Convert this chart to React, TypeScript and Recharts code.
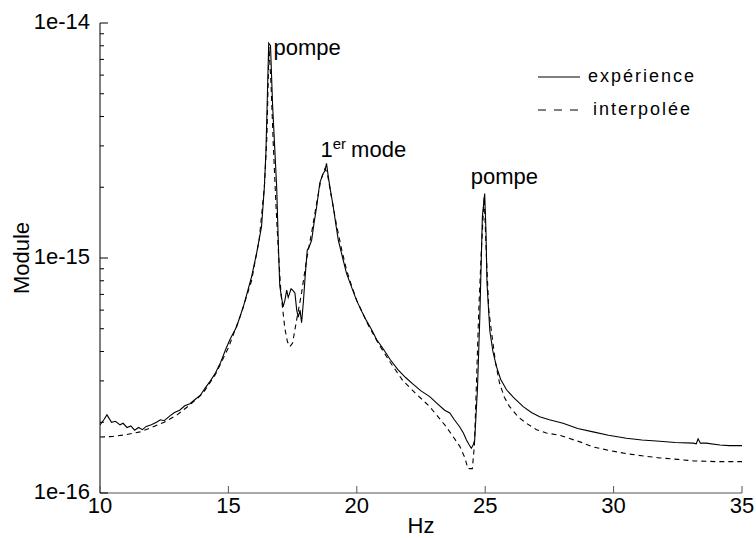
import React from "react";
import { LineChart, Line, XAxis, YAxis, ReferenceDot, Legend } from "recharts";

// mesure (trait plein)
const expFreq = [
  10.0, 10.15, 10.27, 10.45, 10.6, 10.78, 10.9, 11.05, 11.2, 11.35, 11.5, 11.65, 11.8, 12.0,
  12.2, 12.35, 12.5, 12.7, 12.9, 13.1, 13.3, 13.5, 13.7, 13.9, 14.1, 14.3, 14.5, 14.7, 14.9,
  15.06, 15.32, 15.6, 15.9, 16.1, 16.29, 16.4, 16.46, 16.52, 16.57, 16.64, 16.72, 16.8, 16.88,
  16.95, 17.0, 17.13, 17.2, 17.27, 17.33, 17.37, 17.44, 17.5, 17.59, 17.66, 17.72, 17.79,
  17.85, 17.92, 17.98, 18.07, 18.15, 18.24, 18.34, 18.44, 18.56, 18.69, 18.76, 18.82, 18.89,
  18.97, 19.08, 19.18, 19.28, 19.45, 19.6, 19.8, 19.99, 20.2, 20.38, 20.6, 20.77, 21.0, 21.3,
  21.6, 21.9, 22.2, 22.5, 22.84, 23.1, 23.42, 23.62, 23.8, 24.01, 24.15, 24.27, 24.38, 24.46,
  24.53, 24.59, 24.7, 24.79, 24.89, 24.98, 25.03, 25.07, 25.18, 25.3, 25.44, 25.6, 25.83,
  26.1, 26.48, 26.8, 27.12, 27.5, 28.03, 28.6, 29.2, 29.8, 30.5, 31.1, 31.8, 32.4, 33.1,
  33.22, 33.29, 33.38, 33.6, 34.14, 34.5, 35.0,
];
const expModule = [
  1.95e-16, 2.05e-16, 2.15e-16, 2.0e-16, 2.02e-16, 1.95e-16, 1.98e-16, 1.9e-16, 1.93e-16,
  1.85e-16, 1.9e-16, 1.86e-16, 1.92e-16, 1.95e-16, 2.0e-16, 2.05e-16, 2.03e-16, 2.12e-16,
  2.2e-16, 2.25e-16, 2.35e-16, 2.4e-16, 2.5e-16, 2.6e-16, 2.8e-16, 3.0e-16, 3.25e-16, 3.6e-16,
  4.1e-16, 4.5e-16, 5.1e-16, 6.3e-16, 8.3e-16, 1.05e-15, 1.36e-15, 2.0e-15, 2.8e-15, 5.0e-15,
  8.2e-15, 8.0e-15, 4.5e-15, 3.0e-15, 2.0e-15, 1.1e-15, 7.6e-16, 6.2e-16, 6.6e-16, 7.3e-16,
  6.8e-16, 7.0e-16, 7.4e-16, 7.3e-16, 7.1e-16, 6.0e-16, 5.6e-16, 6.0e-16, 5.3e-16, 6.5e-16,
  8.1e-16, 1.08e-15, 1.12e-15, 1.19e-15, 1.42e-15, 1.66e-15, 2.09e-15, 2.29e-15, 2.35e-15,
  2.53e-15, 2.22e-15, 1.95e-15, 1.66e-15, 1.4e-15, 1.19e-15, 1.0e-15, 8.6e-16, 7.5e-16,
  6.6e-16, 5.9e-16, 5.4e-16, 4.9e-16, 4.5e-16, 4.15e-16, 3.7e-16, 3.35e-16, 3.1e-16, 2.9e-16,
  2.72e-16, 2.57e-16, 2.42e-16, 2.25e-16, 2.19e-16, 2.05e-16, 1.91e-16, 1.8e-16, 1.68e-16,
  1.6e-16, 1.55e-16, 1.6e-16, 1.68e-16, 2.8e-16, 5.6e-16, 1.5e-15, 1.88e-15, 1.3e-15, 7.8e-16,
  4.9e-16, 4.0e-16, 3.45e-16, 3.05e-16, 2.75e-16, 2.55e-16, 2.33e-16, 2.2e-16, 2.11e-16,
  2.05e-16, 1.98e-16, 1.88e-16, 1.82e-16, 1.76e-16, 1.71e-16, 1.68e-16, 1.66e-16, 1.64e-16,
  1.63e-16, 1.62e-16, 1.7e-16, 1.63e-16, 1.63e-16, 1.6e-16, 1.59e-16, 1.59e-16,
];

// modèle interpolé (pointillés)
const interpFreq = [
  10.0, 10.5, 11.0, 11.56, 12.0, 12.5, 13.0, 13.5, 14.0, 14.5, 15.0, 15.5, 15.9, 16.2, 16.4,
  16.5, 16.58, 16.66, 16.75, 16.85, 16.95, 17.05, 17.2, 17.3, 17.4, 17.5, 17.65, 17.85, 18.04,
  18.25, 18.44, 18.6, 18.76, 18.85, 19.0, 19.2, 19.4, 19.6, 19.8, 20.0, 20.4, 20.8, 21.3,
  21.8, 22.3, 22.84, 23.49, 24.01, 24.2, 24.33, 24.5, 24.58, 24.66, 24.75, 24.85, 24.96,
  25.05, 25.14, 25.24, 25.4, 25.56, 25.75, 25.95, 26.3, 26.6, 27.0, 27.38, 27.9, 28.69, 29.2,
  29.8, 30.5, 31.1, 31.8, 32.5, 33.1, 34.0, 35.0,
];
const interpModule = [
  1.73e-16, 1.74e-16, 1.77e-16, 1.82e-16, 1.9e-16, 2.0e-16, 2.15e-16, 2.37e-16, 2.65e-16,
  3.2e-16, 4.15e-16, 5.8e-16, 8.0e-16, 1.2e-15, 2.0e-15, 3.3e-15, 7.9e-15, 5.5e-15, 3.0e-15,
  1.7e-15, 1.05e-15, 7.0e-16, 5.0e-16, 4.4e-16, 4.2e-16, 4.35e-16, 5.4e-16, 7.1e-16, 9.8e-16,
  1.3e-15, 1.72e-15, 2.15e-15, 2.4e-15, 2.3e-15, 1.85e-15, 1.4e-15, 1.1e-15, 8.9e-16, 7.6e-16,
  6.6e-16, 5.3e-16, 4.4e-16, 3.6e-16, 3.0e-16, 2.65e-16, 2.33e-16, 1.91e-16, 1.58e-16,
  1.42e-16, 1.27e-16, 1.27e-16, 1.6e-16, 2.95e-16, 6.0e-16, 1.08e-15, 1.82e-15, 1.0e-15,
  6.0e-16, 4.9e-16, 3.6e-16, 2.93e-16, 2.55e-16, 2.33e-16, 2.1e-16, 1.98e-16, 1.86e-16,
  1.8e-16, 1.76e-16, 1.65e-16, 1.57e-16, 1.52e-16, 1.47e-16, 1.44e-16, 1.41e-16, 1.39e-16,
  1.37e-16, 1.36e-16, 1.36e-16,
];

const xTicks = [10, 15, 20, 25, 30, 35];
const yTicks = [
  1e-16, 2e-16, 3e-16, 4e-16, 5e-16, 6e-16, 7e-16, 8e-16, 9e-16,
  1e-15, 2e-15, 3e-15, 4e-15, 5e-15, 6e-15, 7e-15, 8e-15, 9e-15, 1e-14,
];

const peakLabels = ["pompe", "1er mode", "pompe"];
const peakFreq = [16.6, 18.82, 24.98];
const peakModule = [8.2e-15, 2.53e-15, 1.88e-15];

const seriesNames = ["expérience", "interpolée"];

const FONT = "'Liberation Sans', Arial, Helvetica, sans-serif";
const AXIS_GRAY = "#555";
// décalage des annotations par rapport au sommet du pic (px)
const labelOffsets = [
  [4, 12],
  [-6, -6],
  [-14, -10],
];

const expData = expFreq.map((f, i) => ({ f, m: expModule[i] }));
const interpData = interpFreq.map((f, i) => ({ f, m: interpModule[i] }));

const isDecade = (v: number) => {
  const l = Math.log10(v);
  return Math.abs(l - Math.round(l)) < 1e-6;
};

function BottomTick({ x, y, payload }: any) {
  return (
    <g>
      <line x1={x} x2={x} y1={y} y2={y - 7} stroke={AXIS_GRAY} />
      <text x={x} y={y + 20} textAnchor="middle" fontSize={22} fontFamily={FONT} fill="#000">
        {payload.value}
      </text>
    </g>
  );
}

function TopTick({ x, y }: any) {
  return <line x1={x} x2={x} y1={y} y2={y + 6} stroke={AXIS_GRAY} />;
}

function LeftTick({ x, y, payload }: any) {
  const major = isDecade(payload.value);
  return (
    <g>
      <line x1={x} x2={x + (major ? 8 : 4)} y1={y} y2={y} stroke="#000" />
      {major && (
        <text x={x - 10} y={y + 6} textAnchor="end" fontSize={22} fontFamily={FONT} fill="#000">
          {`1e${Math.round(Math.log10(payload.value))}`}
        </text>
      )}
    </g>
  );
}

function RightTick({ x, y, payload }: any) {
  const major = isDecade(payload.value);
  return <line x1={x} x2={x - (major ? 8 : 4)} y1={y} y2={y} stroke={AXIS_GRAY} />;
}

function ModuleTitle({ viewBox }: any) {
  const cx = 29;
  const cy = viewBox.y + viewBox.height / 2;
  return (
    <text
      x={cx}
      y={cy}
      transform={`rotate(-90 ${cx} ${cy})`}
      textAnchor="middle"
      fontSize={22}
      fontFamily={FONT}
      fill="#000"
    >
      Module
    </text>
  );
}

function HzTitle({ viewBox }: any) {
  return (
    <text
      x={viewBox.x + viewBox.width / 2}
      y={533}
      textAnchor="middle"
      fontSize={22}
      fontFamily={FONT}
      fill="#000"
    >
      Hz
    </text>
  );
}

function PeakLabel({ viewBox, text, idx }: any) {
  const [dx, dy] = labelOffsets[idx];
  const x = viewBox.x + dx;
  const y = viewBox.y + dy;
  const sup = text.match(/^(\d+)(er)\s(.*)$/);
  return (
    <text x={x} y={y} fontSize={22} fontFamily={FONT} fill="#000">
      {sup ? (
        <>
          <tspan>{sup[1]}</tspan>
          <tspan dy={-8} fontSize={15}>
            {sup[2]}
          </tspan>
          <tspan dy={8} dx={5}>
            {sup[3]}
          </tspan>
        </>
      ) : (
        text
      )}
    </text>
  );
}

function LegendBox() {
  return (
    <svg width={200} height={70}>
      <line x1={8} x2={50} y1={17} y2={17} stroke="#000" strokeWidth={1.1} />
      <line x1={8} x2={52} y1={50} y2={50} stroke="#000" strokeWidth={1.1} strokeDasharray="8 8" />
      <text x={58} y={22} fontSize={18} letterSpacing={2} fontFamily={FONT} fill="#000">
        {seriesNames[0]}
      </text>
      <text x={63} y={55} fontSize={18} letterSpacing={2} fontFamily={FONT} fill="#000">
        {seriesNames[1]}
      </text>
    </svg>
  );
}

export default function App() {
  return (
    <div style={{ position: "absolute", left: 0, top: 0, width: 756, height: 538, background: "#fff" }}>
      <LineChart width={756} height={538} margin={{ top: 23, right: 14, bottom: 0, left: 0 }}>
        <XAxis
          xAxisId="b"
          type="number"
          dataKey="f"
          domain={[10, 35]}
          ticks={xTicks}
          interval={0}
          height={45}
          allowDataOverflow
          tickSize={0}
          tickMargin={0}
          tickLine={false}
          axisLine={{ stroke: AXIS_GRAY }}
          tick={<BottomTick />}
          label={<HzTitle />}
        />
        <XAxis
          xAxisId="t"
          orientation="top"
          type="number"
          dataKey="f"
          domain={[10, 35]}
          ticks={xTicks}
          interval={0}
          height={0}
          allowDataOverflow
          tickSize={0}
          tickMargin={0}
          tickLine={false}
          axisLine={{ stroke: AXIS_GRAY }}
          tick={<TopTick />}
        />
        <YAxis
          yAxisId="l"
          scale="log"
          domain={[1e-16, 1e-14]}
          ticks={yTicks}
          interval={0}
          width={100}
          allowDataOverflow
          tickSize={0}
          tickMargin={0}
          tickLine={false}
          axisLine={{ stroke: "#000" }}
          tick={<LeftTick />}
          label={<ModuleTitle />}
        />
        <YAxis
          yAxisId="r"
          orientation="right"
          scale="log"
          domain={[1e-16, 1e-14]}
          ticks={yTicks}
          interval={0}
          width={0}
          allowDataOverflow
          tickSize={0}
          tickMargin={0}
          tickLine={false}
          axisLine={{ stroke: AXIS_GRAY }}
          tick={<RightTick />}
        />
        <Legend
          layout="horizontal"
          verticalAlign="middle"
          align="center"
          content={<LegendBox />}
          wrapperStyle={{ left: 530, top: 60, width: 200, height: 70 }}
        />
        <Line
          xAxisId="b"
          yAxisId="l"
          data={interpData}
          dataKey="m"
          name={seriesNames[1]}
          type="linear"
          stroke="#000"
          strokeWidth={1.1}
          strokeDasharray="5 4"
          dot={false}
          isAnimationActive={false}
        />
        <Line
          xAxisId="b"
          yAxisId="l"
          data={expData}
          dataKey="m"
          name={seriesNames[0]}
          type="linear"
          stroke="#000"
          strokeWidth={1.1}
          dot={false}
          isAnimationActive={false}
        />
        {peakLabels.map((t, i) => (
          <ReferenceDot
            key={i}
            xAxisId="b"
            yAxisId="l"
            x={peakFreq[i]}
            y={peakModule[i]}
            r={0}
            fill="none"
            stroke="none"
            label={<PeakLabel text={t} idx={i} />}
          />
        ))}
      </LineChart>
    </div>
  );
}
